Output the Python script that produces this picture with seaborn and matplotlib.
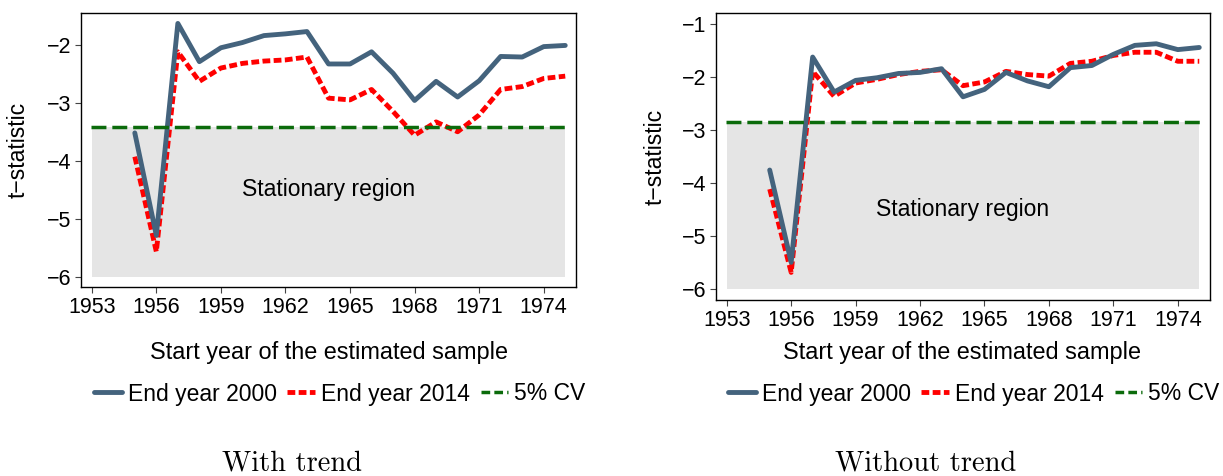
import numpy as np
import pandas as pd
import matplotlib
matplotlib.use("Agg")
import matplotlib.pyplot as plt
import seaborn as sns
from matplotlib.lines import Line2D

# Data: start year of sample and ADF t-statistics
years = list(range(1955, 1976))

# with trend
trend_2000 = [-3.52, -5.29, -1.63, -2.29, -2.05, -1.96, -1.84, -1.81, -1.77, -2.33, -2.33,
              -2.12, -2.49, -2.96, -2.63, -2.90, -2.62, -2.20, -2.21, -2.03, -2.01]
trend_2014 = [-3.93, -5.57, -2.12, -2.63, -2.40, -2.32, -2.28, -2.26, -2.21, -2.92, -2.95,
              -2.77, -3.15, -3.56, -3.33, -3.50, -3.21, -2.77, -2.72, -2.58, -2.54]
trend_cv = -3.41

# without trend
notrend_2000 = [-3.76, -5.50, -1.63, -2.29, -2.07, -2.02, -1.94, -1.92, -1.85, -2.38, -2.24,
                -1.92, -2.08, -2.19, -1.83, -1.79, -1.58, -1.41, -1.38, -1.49, -1.45]
notrend_2014 = [-4.12, -5.69, -1.90, -2.37, -2.12, -2.05, -1.96, -1.90, -1.87, -2.17, -2.10,
                -1.90, -1.96, -1.99, -1.75, -1.71, -1.60, -1.54, -1.54, -1.71, -1.71]
notrend_cv = -2.86

xticks = [1953, 1956, 1959, 1962, 1965, 1968, 1971, 1974]

sns.set_style("ticks")
plt.rcParams['font.family'] = ['Liberation Sans', 'DejaVu Sans']
plt.rcParams['text.color'] = 'black'

BLUE = '#44637d'
RED = '#ff0000'
GREEN = '#0b6b0b'
SHADE = '#e5e5e5'

W, H = 1223, 476
fig = plt.figure(figsize=(W / 100, H / 100), dpi=100)
ax1 = fig.add_axes([81 / W, 1 - 287 / H, 495 / W, 274 / H])
ax2 = fig.add_axes([716 / W, 1 - 300 / H, 494 / W, 287 / H])


def draw_panel(ax, s2000, s2014, cv, ylim, yticks):
    df = pd.DataFrame({'year': years, 'e2000': s2000, 'e2014': s2014})
    ax.fill_between([1953, 1975], [-6, -6], [cv, cv], color=SHADE, lw=0, zorder=0)
    sns.lineplot(data=df, x='year', y='e2014', ax=ax, color=RED, lw=3.5, zorder=2)
    ax.lines[-1].set_dashes([1.6, 0.7])
    sns.lineplot(data=df, x='year', y='e2000', ax=ax, color=BLUE, lw=3.5, zorder=3)
    ax.axhline(cv, xmin=0.02, xmax=0.98, color=GREEN, lw=2.5, dashes=(4.3, 1.7), zorder=4)
    ax.text(1964.0, -4.5, 'Stationary region', ha='center', va='center', fontsize=16.5)
    ax.set_xlim(1952.5, 1975.5)
    ax.set_ylim(*ylim)
    ax.set_xticks(xticks)
    ax.set_yticks(yticks)
    ax.set_yticklabels([f'\u2212{abs(t)}' for t in yticks])
    ax.set_xlabel('')
    ax.set_ylabel('')
    ax.tick_params(labelsize=15.5, length=4, width=0.8, color='#444444',
                   labelcolor='black', pad=3)
    for sp in ax.spines.values():
        sp.set_linewidth(1.0)
        sp.set_color('black')


draw_panel(ax1, trend_2000, trend_2014, trend_cv, (-6.18, -1.45), [-6, -5, -4, -3, -2])
draw_panel(ax2, notrend_2000, notrend_2014, notrend_cv, (-6.21, -0.80), [-6, -5, -4, -3, -2, -1])

# axis labels
fig.text(18 / W, 1 - 150 / H, 't\u2212statistic', rotation=90, ha='center', va='center', fontsize=16.5)
fig.text(655 / W, 1 - 157 / H, 't\u2212statistic', rotation=90, ha='center', va='center', fontsize=16.5)
fig.text(329 / W, 1 - 352 / H, 'Start year of the estimated sample', ha='center', va='center', fontsize=16.9)
fig.text(962 / W, 1 - 352 / H, 'Start year of the estimated sample', ha='center', va='center', fontsize=16.9)

# legends
handles = [
    Line2D([], [], color=BLUE, lw=3.5),
    Line2D([], [], color=RED, lw=3.5, dashes=[1.6, 0.7]),
    Line2D([], [], color=GREEN, lw=2.5, dashes=(2.5, 1.2)),
]
labels = ['End year 2000', 'End year 2014', '5% CV']
for cx in (340 / W, 974 / W):
    fig.legend(handles, labels, loc='center', bbox_to_anchor=(cx, 1 - 394 / H), ncol=3,
               frameon=False, fontsize=16.5, handlelength=1.2, handletextpad=0.28,
               columnspacing=0.45, borderpad=0.1)

# panel captions
fig.text(292 / W, 1 - 463 / H, 'With trend', ha='center', va='center', fontsize=20.5, family='cmr10')
fig.text(926 / W, 1 - 463 / H, 'Without trend', ha='center', va='center', fontsize=20.5, family='cmr10')

fig.savefig('out.png', dpi=100)
